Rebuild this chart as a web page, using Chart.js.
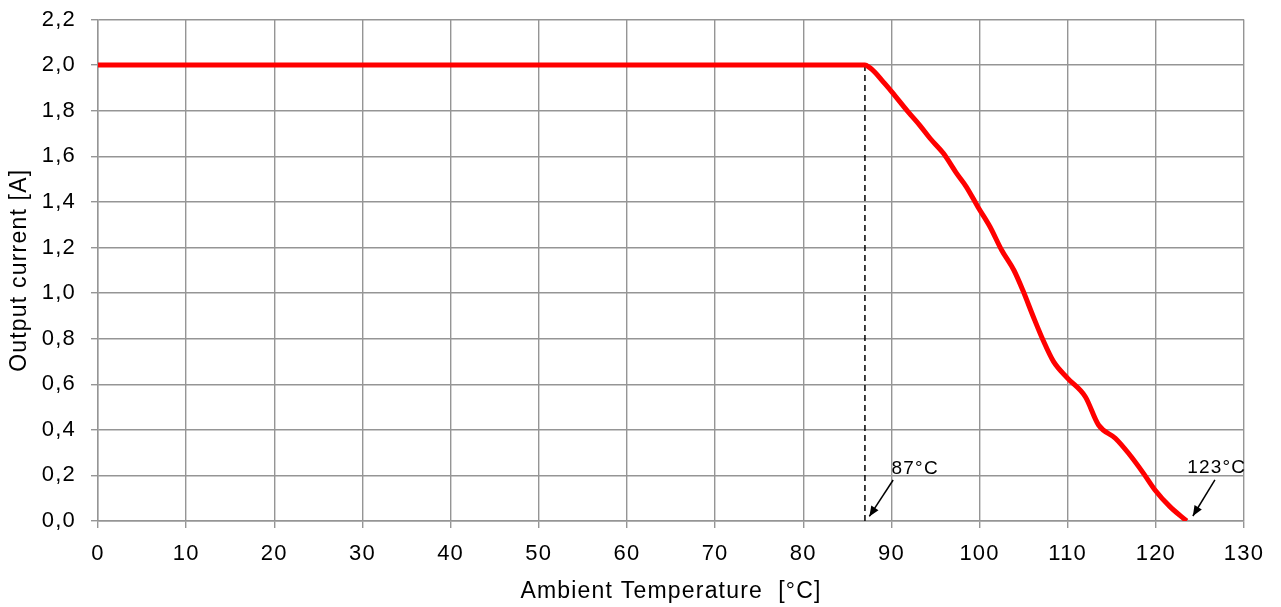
<!DOCTYPE html>
<html>
<head>
<meta charset="utf-8">
<script src="https://cdn.jsdelivr.net/npm/chart.js@4"></script>
<style>
  html, body { margin: 0; padding: 0; background: #fff; }
  #wrap { width: 1281px; height: 607px; }
</style>
</head>
<body>
<div id="wrap"><canvas id="deratingChart"></canvas></div>
<script>
// derating curve
const tempC = [0, 87, 87.5, 88.1, 89.0, 90.0, 91.9, 93.2, 94.4, 95.9, 97.4, 98.5, 99.8, 101.2, 102.5, 103.9, 104.9, 106.1, 107.2, 108.4, 110.0, 112.0, 113.5, 115.4, 116.9, 118.6, 119.9, 121.6, 123.5];
const currentA = [2.0, 2.0, 1.99, 1.97, 1.93, 1.885, 1.795, 1.737, 1.678, 1.613, 1.525, 1.466, 1.379, 1.29, 1.189, 1.10, 1.013, 0.896, 0.794, 0.699, 0.626, 0.545, 0.421, 0.363, 0.297, 0.209, 0.136, 0.063, 0.0];
const markerX = [87, 87];
const markerY = [0, 2.0];
const xTicks = [0, 10, 20, 30, 40, 50, 60, 70, 80, 90, 100, 110, 120, 130];
const yTicks = [0, 0.2, 0.4, 0.6, 0.8, 1.0, 1.2, 1.4, 1.6, 1.8, 2.0, 2.2];

const FONT = "'Liberation Sans', Arial, Helvetica, sans-serif";

// little callouts "87°C" / "123°C" with arrows
const callouts = [
    { text: '87°C', tx: 92.7, ty: 0.205, from: [90.2, 0.18], to: [87.5, 0.02] },
    { text: '123°C', tx: 126.9, ty: 0.21, from: [126.7, 0.18], to: [124.2, 0.022] }
];

const spacingPlugin = {
    id: 'spacing',
    beforeDraw(chart) {
        // the reference text is set a bit looser than the plain font
        chart.ctx.letterSpacing = '1.2px';
    }
};

const calloutPlugin = {
    id: 'callouts',
    afterDatasetsDraw(chart) {
        const ctx = chart.ctx;
        const xs = chart.scales.x, ys = chart.scales.y;
        ctx.save();
        callouts.forEach(c => {
            const x1 = xs.getPixelForValue(c.from[0]), y1 = ys.getPixelForValue(c.from[1]);
            const x2 = xs.getPixelForValue(c.to[0]), y2 = ys.getPixelForValue(c.to[1]);
            ctx.strokeStyle = '#000';
            ctx.fillStyle = '#000';
            ctx.lineWidth = 1.5;
            ctx.beginPath();
            ctx.moveTo(x1, y1);
            ctx.lineTo(x2, y2);
            ctx.stroke();
            // arrow head
            const ang = Math.atan2(y2 - y1, x2 - x1);
            const len = 11, w = 0.4;
            ctx.beginPath();
            ctx.moveTo(x2, y2);
            ctx.lineTo(x2 - len * Math.cos(ang - w), y2 - len * Math.sin(ang - w));
            ctx.lineTo(x2 - len * Math.cos(ang + w), y2 - len * Math.sin(ang + w));
            ctx.closePath();
            ctx.fill();
            ctx.font = '19px ' + FONT;
            ctx.textAlign = 'center';
            ctx.textBaseline = 'alphabetic';
            ctx.fillText(c.text, xs.getPixelForValue(c.tx), ys.getPixelForValue(c.ty));
        });
        ctx.restore();
    }
};

const ctx = document.getElementById('deratingChart').getContext('2d');
const deratingChart = new Chart(ctx, {
    type: 'line',
    data: {
        datasets: [{
            data: tempC.map((t, i) => ({ x: t, y: currentA[i] })),
            borderColor: '#ff0000',
            borderWidth: 5,
            pointRadius: 0,
            cubicInterpolationMode: 'monotone',
            fill: false,
            order: 1
        }, {
            data: markerX.map((t, i) => ({ x: t, y: markerY[i] })),
            borderColor: '#000',
            borderWidth: 1.5,
            borderDash: [6, 4],
            pointRadius: 0,
            fill: false,
            order: 2
        }]
    },
    options: {
        responsive: true,
        maintainAspectRatio: false,
        animation: false,
        layout: { padding: { top: 19.5, right: 37, left: 0, bottom: 0 } },
        plugins: {
            legend: { display: false },
            tooltip: { enabled: false }
        },
        scales: {
            x: {
                type: 'linear',
                min: 0,
                max: 130,
                afterBuildTicks: s => { s.ticks = xTicks.map(v => ({ value: v })); },
                afterFit: s => { s.height = 86; },
                ticks: {
                    color: '#000',
                    font: { family: FONT, size: 22 },
                    padding: 13,
                    maxRotation: 0
                },
                grid: { color: '#959595', lineWidth: 1.4, tickLength: 7 },
                border: { color: '#959595', width: 1.4 },
                title: {
                    display: true,
                    text: 'Ambient Temperature  [°C]',
                    color: '#000',
                    font: { family: FONT, size: 23 },
                    padding: { top: 0, bottom: 2 }
                }
            },
            y: {
                min: 0,
                max: 2.2,
                afterBuildTicks: s => { s.ticks = yTicks.map(v => ({ value: v })); },
                afterFit: s => {
                    s.width = 98;
                    s.paddingTop = 0;
                    s.paddingBottom = 0;
                },
                ticks: {
                    color: '#000',
                    font: { family: FONT, size: 22 },
                    padding: 15,
                    callback: v => v.toFixed(1).replace('.', ',')
                },
                grid: { color: '#959595', lineWidth: 1.4, tickLength: 7 },
                border: { color: '#959595', width: 1.4 },
                title: {
                    display: true,
                    text: 'Output current [A]',
                    color: '#000',
                    font: { family: FONT, size: 23 },
                    padding: { top: 6, bottom: 0 }
                }
            }
        }
    },
    plugins: [spacingPlugin, calloutPlugin]
});
</script>
</body>
</html>
